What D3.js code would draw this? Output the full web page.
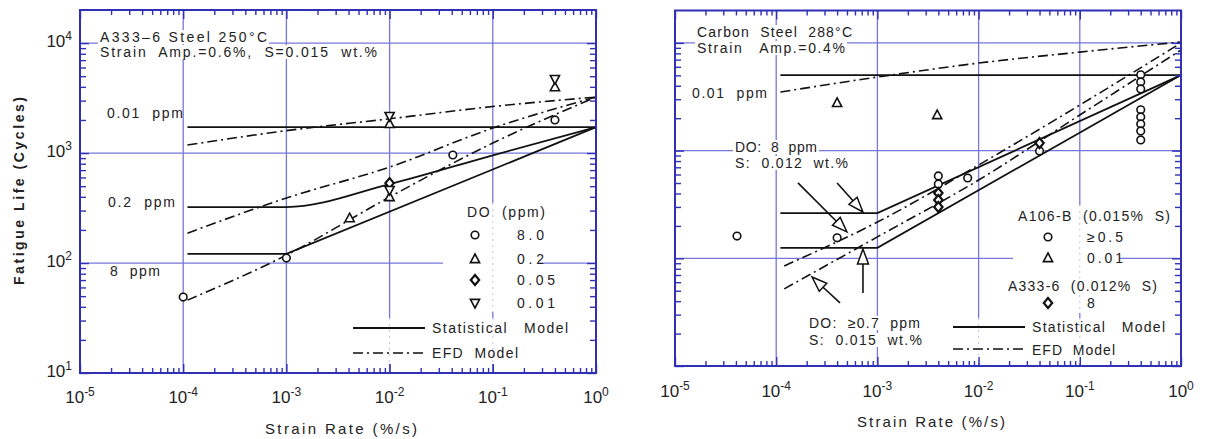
<!DOCTYPE html>
<html><head><meta charset="utf-8">
<script src="https://cdn.jsdelivr.net/npm/d3@7"></script>
<style>
body{margin:0;background:#fff;}
svg text{font-family:"Liberation Sans",Arial,Helvetica,sans-serif;fill:#222;white-space:pre;}
</style></head><body>
<svg id="c" width="1207" height="439"></svg>
<script>
// ---------------- DATA ----------------
const xTickExponents = [-5, -4, -3, -2, -1, 0];
const yTickExponents = [1, 2, 3, 4];
const xAxisTitle = "Strain Rate (%/s)";
const yAxisTitle = "Fatigue Life (Cycles)";

// Left panel: A333-6 steel, 250°C
const leftTitle = ["A333\u20136 Steel 250\u00b0C", "Strain  Amp.=0.6%,  S=0.015  wt.%"];
const leftCurveLabels = ["0.01  ppm", "0.2  ppm", "8  ppm"];
const leftStat001 = [[1.1e-4, 1720], [1, 1720]];
const leftStat02  = [[1.1e-4, 323], [1e-3, 323], [1e-2, 522], [1e-1, 955], [1, 1720]];
const leftStat8   = [[1.1e-4, 121], [1e-3, 121], [1, 1720]];
const leftEfd001  = [[1.1e-4, 1183], [1e-3, 1600], [1e-2, 2050], [1e-1, 2650], [1, 3230]];
const leftEfd02   = [[1.1e-4, 187], [1e-3, 390], [1e-2, 746], [1e-1, 1687], [1, 3230]];
const leftEfd8    = [[1.1e-4, 46], [1e-3, 118], [1e-2, 398], [1e-1, 1233], [1, 3230]];
const leftCircles      = [[1e-4, 49], [1e-3, 111], [0.041, 960], [0.4, 2000]];
const leftTriangles    = [[0.0041, 256], [0.01, 398], [0.01, 1840], [0.4, 3980]];
const leftDiamonds     = [[0.01, 533]];
const leftInvTriangles = [[0.01, 461], [0.01, 2170], [0.4, 4710]];
const leftLegendTitle = "DO  (ppm)";
const leftLegendLabels = ["8.0", "0.2", "0.05", "0.01"];

// Right panel: carbon steel, 288°C
const rightTitle = ["Carbon  Steel  288\u00b0C", "Strain   Amp.=0.4%"];
const rightCurveLabel = "0.01  ppm";
const rightNoteUpper = ["DO:  8  ppm", "S:  0.012  wt.%"];
const rightNoteLower = ["DO:  \u22650.7  ppm", "S:  0.015  wt.%"];
const rightStat001 = [[1.1e-4, 5030], [1, 5030]];
const rightStat8   = [[1.1e-4, 263], [1e-3, 263], [1, 5030]];
const rightStat07  = [[1.1e-4, 125], [1e-3, 125], [1, 5030]];
const rightEfd001  = [[1.1e-4, 3500], [1e-3, 4820], [1e-2, 6500], [1e-1, 8220], [1, 10200]];
const rightEfd8    = [[1.2e-4, 85], [1e-3, 217], [1e-2, 735], [1e-1, 2650], [1, 10000]];
const rightEfd07   = [[1.2e-4, 52], [1e-3, 158], [1e-2, 533], [1e-1, 2140], [1, 8600]];
const rightCircles = [[4.1e-5, 161], [4e-4, 155], [4e-3, 582], [4e-3, 490], [7.8e-3, 557], [4e-2, 993],
  [0.4, 5050], [0.4, 4346], [0.4, 3742], [0.4, 2390], [0.4, 2057], [0.4, 1771], [0.4, 1524], [0.4, 1257]];
const rightTriangles = [[4e-4, 2770], [3.9e-3, 2140]];
const rightDiamonds  = [[4e-3, 404], [4e-3, 348], [4e-3, 300], [4e-2, 1178]];
// arrows: [tail, tip] in (strain rate, cycles)
const rightArrows = [
  [[1.64e-4, 501], [5.0e-4, 176]],
  [[4.0e-4, 501], [7.2e-4, 269]],
  [[7.2e-4, 47.7], [7.2e-4, 122]],
  [[4.27e-4, 38.5], [2.26e-4, 67]]
];
const rightLegendGroups = ["A106-B  (0.015%  S)", "A333-6  (0.012%  S)"];
const rightLegendLabels = ["\u22650.5", "0.01", "8"];
const modelLabels = ["Statistical   Model", "EFD  Model"];

// ---------------- DRAWING ----------------
const svg = d3.select('#c');
const FRAME = '#3030b4', GRID = '#7676dc', INK = '#111';
const FS = 14;

function addText(g, x, y, str, o = {}) {
  const t = g.append('text').attr('x', x).attr('y', y)
    .attr('xml:space', 'preserve')
    .attr('font-size', o.size || FS)
    .attr('text-anchor', o.anchor || 'start')
    .text(str);
  if (o.len) t.attr('textLength', o.len).attr('lengthAdjust', 'spacing');
  if (o.weight) t.attr('font-weight', o.weight);
  if (o.bg) {
    const b = t.node().getBBox();
    g.insert('rect', () => t.node()).attr('x', b.x - 2).attr('y', b.y + 1)
      .attr('width', b.width + 4).attr('height', b.height - 2).attr('fill', '#fff');
  }
  return t;
}

function marker(g, type, cx, cy) {
  let p;
  if (type === 'circle') {
    g.append('circle').attr('cx', cx).attr('cy', cy).attr('r', 3.8)
      .attr('fill', '#fff').attr('stroke', INK).attr('stroke-width', 1.6);
    return;
  }
  if (type === 'tri') p = `M${cx},${cy-5}L${cx+4.6},${cy+3.6}L${cx-4.6},${cy+3.6}Z`;
  if (type === 'inv') p = `M${cx},${cy+5}L${cx+4.6},${cy-3.6}L${cx-4.6},${cy-3.6}Z`;
  if (type === 'dia') p = `M${cx},${cy-5}L${cx+4.2},${cy}L${cx},${cy+5}L${cx-4.2},${cy}Z`;
  g.append('path').attr('d', p).attr('fill', '#fff').attr('stroke', INK)
    .attr('stroke-width', type === 'dia' ? 2.2 : 1.6).attr('stroke-linejoin', 'miter');
}

function panel(cfg) {
  const x = d3.scaleLog().domain([1e-5, 1]).range([cfg.x0, cfg.x1]);
  const y = d3.scaleLog().domain([10, 2e4]).range([cfg.y1, cfg.y0]);
  const g = svg.append('g');
  const gGrid = g.append('g'), gAnn = g.append('g'), gData = g.append('g'),
        gMark = g.append('g'), gAxis = g.append('g');

  xTickExponents.slice(1, -1).forEach(e => gGrid.append('line')
    .attr('x1', x(10 ** e)).attr('x2', x(10 ** e)).attr('y1', cfg.y0).attr('y2', cfg.y1)
    .attr('stroke', GRID).attr('stroke-width', 1.3));
  yTickExponents.slice(1).forEach(e => gGrid.append('line')
    .attr('y1', y(10 ** e)).attr('y2', y(10 ** e)).attr('x1', cfg.x0).attr('x2', cfg.x1)
    .attr('stroke', GRID).attr('stroke-width', 1.3));

  cfg.boxes.forEach(b => {
    gAnn.append('rect').attr('x', b[0]).attr('y', b[1]).attr('width', b[2] - b[0])
      .attr('height', b[3] - b[1]).attr('fill', '#fff');
    xTickExponents.slice(1, -1).forEach(e => {
      const xv = x(10 ** e);
      if (xv > b[0] && xv < b[2]) gAnn.append('line').attr('x1', xv).attr('x2', xv)
        .attr('y1', b[1]).attr('y2', b[3]).attr('stroke', '#c4c4ee')
        .attr('stroke-width', 1).attr('stroke-dasharray', '2,4');
    });
  });

  const majors = xTickExponents.map(e => 10 ** e);
  const xMinor = [], yMinor = [];
  xTickExponents.slice(0, -1).forEach(e => { for (let m = 2; m <= 9; m++) xMinor.push(m * 10 ** e); });
  yTickExponents.forEach(e => { for (let m = 2; m <= 9; m++) { const v = m * 10 ** e; if (v < 2e4) yMinor.push(v); } });
  const yMajors = yTickExponents.map(e => 10 ** e);
  const axes = [
    [d3.axisBottom(x).tickValues(majors), `translate(0,${cfg.y1})`, 9],
    [d3.axisBottom(x).tickValues(xMinor), `translate(0,${cfg.y1})`, 5],
    [d3.axisTop(x).tickValues(majors), `translate(0,${cfg.y0})`, 9],
    [d3.axisTop(x).tickValues(xMinor), `translate(0,${cfg.y0})`, 5],
    [d3.axisLeft(y).tickValues(yMajors), `translate(${cfg.x0},0)`, 9],
    [d3.axisLeft(y).tickValues(yMinor), `translate(${cfg.x0},0)`, 6],
    [d3.axisRight(y).tickValues(yMajors), `translate(${cfg.x1},0)`, 9],
    [d3.axisRight(y).tickValues(yMinor), `translate(${cfg.x1},0)`, 6]
  ];
  axes.forEach(([ax, tr, len]) => {
    const a = gAxis.append('g').attr('transform', tr)
      .call(ax.tickSizeInner(-len).tickSizeOuter(0).tickFormat(''));
    a.select('.domain').remove();
    a.selectAll('line').attr('stroke', FRAME).attr('stroke-width', 1.4);
  });
  gAxis.append('rect').attr('x', cfg.x0).attr('y', cfg.y0).attr('width', cfg.x1 - cfg.x0)
    .attr('height', cfg.y1 - cfg.y0).attr('fill', 'none').attr('stroke', FRAME).attr('stroke-width', 2);

  xTickExponents.forEach(e => {
    const t = gAxis.append('text').attr('x', x(10 ** e)).attr('y', cfg.y1 + cfg.xlab)
      .attr('text-anchor', 'middle').attr('font-size', 17).attr('fill', '#333');
    t.append('tspan').text('10');
    t.append('tspan').attr('font-size', 12).attr('dy', -7).text(String(e));
  });
  if (cfg.yLabels) {
    yTickExponents.forEach(e => {
      const t = gAxis.append('text').attr('x', cfg.x0 - 8).attr('y', y(10 ** e) + 4)
        .attr('text-anchor', 'end').attr('font-size', 17).attr('fill', '#333');
      t.append('tspan').text('10');
      t.append('tspan').attr('font-size', 12).attr('dy', -7).text(String(e));
    });
  }
  return {x, y, gAnn, gData, gMark, gAxis};
}

function drawLine(P, pts, efd, smooth) {
  const line = d3.line().x(d => P.x(d[0])).y(d => P.y(d[1]))
    .curve(smooth ? d3.curveMonotoneX : d3.curveLinear);
  P.gData.append('path').attr('d', line(pts)).attr('fill', 'none').attr('stroke', INK)
    .attr('stroke-width', efd ? 1.6 : 1.8)
    .attr('stroke-dasharray', efd ? '10,4,2,4' : null);
}

function drawArrow(g, x1, y1, x2, y2) {
  const ang = Math.atan2(y2 - y1, x2 - x1), L = 15, Wd = 5.5;
  const bx = x2 - L * Math.cos(ang), by = y2 - L * Math.sin(ang);
  const nx = -Math.sin(ang), ny = Math.cos(ang);
  g.append('line').attr('x1', x1).attr('y1', y1).attr('x2', bx).attr('y2', by)
    .attr('stroke', INK).attr('stroke-width', 1.6);
  g.append('path').attr('d', `M${x2},${y2}L${bx + nx * Wd},${by + ny * Wd}L${bx - nx * Wd},${by - ny * Wd}Z`)
    .attr('fill', '#fff').attr('stroke', INK).attr('stroke-width', 1.5);
}

// ---- Left panel ----
const L = panel({x0: 80, x1: 596, y0: 10, y1: 373, xlab: 30, yLabels: true,
  boxes: [[443, 203, 538, 312], [345, 318, 572, 364]]});
addText(L.gAnn, 100, 42, leftTitle[0], {len: 167, bg: true});
addText(L.gAnn, 100, 57, leftTitle[1], {len: 277, bg: true});
addText(L.gAnn, 107, 118, leftCurveLabels[0], {len: 76});
addText(L.gAnn, 108, 207, leftCurveLabels[1], {len: 67});
addText(L.gAnn, 110, 276, leftCurveLabels[2], {len: 50});
addText(L.gAnn, 467, 217, leftLegendTitle, {len: 78});
const leftLegY = [235, 259, 280, 303], leftLegT = ['circle', 'tri', 'dia', 'inv'];
leftLegendLabels.forEach((s, i) => {
  addText(L.gAnn, 517, leftLegY[i] + 5, s, {len: s.length > 3 ? 38 : 27});
  marker(L.gMark, leftLegT[i], 475, leftLegY[i]);
});
L.gAnn.append('line').attr('x1', 353).attr('x2', 425).attr('y1', 328).attr('y2', 328)
  .attr('stroke', INK).attr('stroke-width', 1.8);
L.gAnn.append('line').attr('x1', 353).attr('x2', 425).attr('y1', 353).attr('y2', 353)
  .attr('stroke', INK).attr('stroke-width', 1.6).attr('stroke-dasharray', '10,4,2,4');
addText(L.gAnn, 432, 333, modelLabels[0], {len: 136});
addText(L.gAnn, 432, 358, modelLabels[1], {len: 86});

drawLine(L, leftStat001, false, false);
drawLine(L, leftStat02, false, true);
drawLine(L, leftStat8, false, false);
drawLine(L, leftEfd001, true, true);
drawLine(L, leftEfd02, true, true);
drawLine(L, leftEfd8, true, true);
leftCircles.forEach(d => marker(L.gMark, 'circle', L.x(d[0]), L.y(d[1])));
leftTriangles.forEach(d => marker(L.gMark, 'tri', L.x(d[0]), L.y(d[1])));
leftDiamonds.forEach(d => marker(L.gMark, 'dia', L.x(d[0]), L.y(d[1])));
leftInvTriangles.forEach(d => marker(L.gMark, 'inv', L.x(d[0]), L.y(d[1])));

// ---- Right panel ----
const R = panel({x0: 675, x1: 1181, y0: 10.5, y1: 366, xlab: 31, yLabels: false,
  boxes: [[1013, 205, 1120, 313], [948, 318, 1170, 363]]});
addText(R.gAnn, 697, 37, rightTitle[0], {len: 155, bg: true});
addText(R.gAnn, 697, 53, rightTitle[1], {len: 148, bg: true});
addText(R.gAnn, 692, 98, rightCurveLabel, {len: 75});
addText(R.gAnn, 735, 152, rightNoteUpper[0], {len: 82, bg: true});
addText(R.gAnn, 735, 168, rightNoteUpper[1], {len: 113, bg: true});
addText(R.gAnn, 809, 328, rightNoteLower[0], {len: 111, bg: true});
addText(R.gAnn, 809, 345, rightNoteLower[1], {len: 113, bg: true});
addText(R.gAnn, 1018, 221, rightLegendGroups[0], {len: 152});
addText(R.gAnn, 1008, 291, rightLegendGroups[1], {len: 149});
const rLegY = [237, 258, 303], rLegT = ['circle', 'tri', 'dia'];
rightLegendLabels.forEach((s, i) => {
  addText(R.gAnn, 1087, rLegY[i] + 5, s, {len: s.length > 1 ? 36 : null});
  marker(R.gMark, rLegT[i], 1048, rLegY[i]);
});
R.gAnn.append('line').attr('x1', 953).attr('x2', 1025).attr('y1', 327).attr('y2', 327)
  .attr('stroke', INK).attr('stroke-width', 1.8);
R.gAnn.append('line').attr('x1', 953).attr('x2', 1025).attr('y1', 349).attr('y2', 349)
  .attr('stroke', INK).attr('stroke-width', 1.6).attr('stroke-dasharray', '10,4,2,4');
addText(R.gAnn, 1032, 332, modelLabels[0], {len: 133});
addText(R.gAnn, 1032, 355, modelLabels[1], {len: 83});

drawLine(R, rightStat001, false, false);
drawLine(R, rightStat8, false, false);
drawLine(R, rightStat07, false, false);
drawLine(R, rightEfd001, true, true);
drawLine(R, rightEfd8, true, true);
drawLine(R, rightEfd07, true, true);
rightCircles.forEach(d => marker(R.gMark, 'circle', R.x(d[0]), R.y(d[1])));
rightTriangles.forEach(d => marker(R.gMark, 'tri', R.x(d[0]), R.y(d[1])));
rightDiamonds.forEach(d => marker(R.gMark, 'dia', R.x(d[0]), R.y(d[1])));
rightArrows.forEach(a => drawArrow(R.gMark, R.x(a[0][0]), R.y(a[0][1]), R.x(a[1][0]), R.y(a[1][1])));

// axis titles
addText(svg, 341, 434, xAxisTitle, {size: 15, anchor: 'middle', len: 152});
addText(svg, 931, 427, xAxisTitle, {size: 15, anchor: 'middle', len: 148});
addText(svg.append('g').attr('transform', 'translate(24,191) rotate(-90)'), 0, 0, yAxisTitle,
  {size: 14, anchor: 'middle', len: 188, weight: 'bold'});
</script></body></html>
